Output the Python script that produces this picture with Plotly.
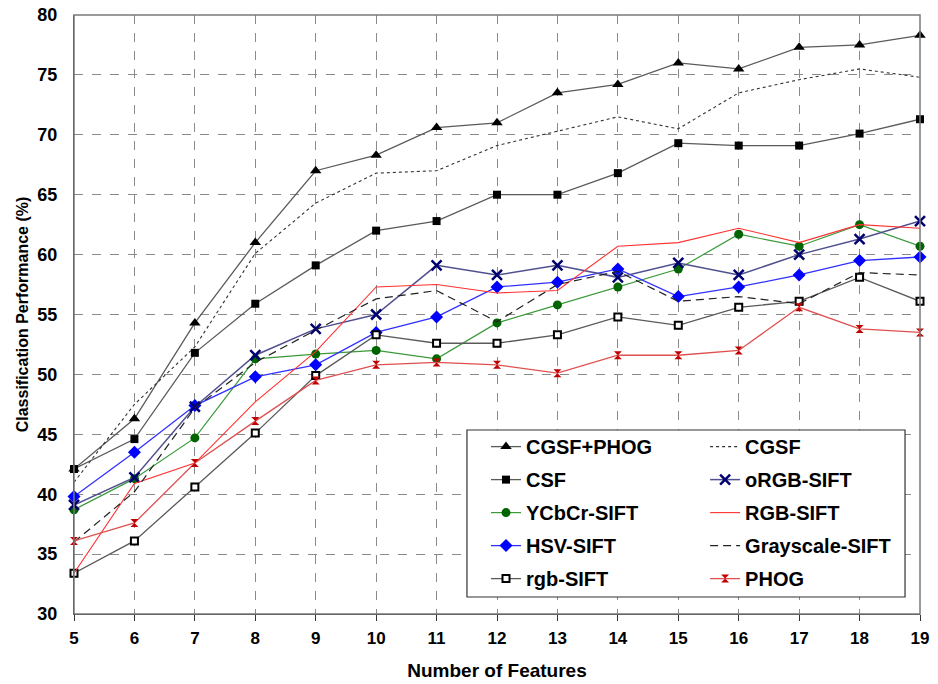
import plotly.graph_objects as go

features = list(range(5, 20))

cgsf_phog = [42.1, 46.3, 54.3, 61.0, 67.0, 68.3, 70.6, 71.0, 73.5, 74.2, 76.0, 75.5, 77.3, 77.5, 78.3]
cgsf = [41.0, 47.5, 52.3, 60.1, 64.3, 66.8, 67.0, 69.1, 70.3, 71.5, 70.5, 73.5, 74.6, 75.5, 74.8]
csf = [42.1, 44.6, 51.8, 55.9, 59.1, 62.0, 62.8, 65.0, 65.0, 66.8, 69.3, 69.1, 69.1, 70.1, 71.3]
orgb_sift = [39.1, 41.4, 47.3, 51.6, 53.8, 55.0, 59.1, 58.3, 59.1, 58.1, 59.3, 58.3, 60.0, 61.3, 62.8]
ycbcr_sift = [38.7, 41.3, 44.7, 51.3, 51.7, 52.0, 51.3, 54.3, 55.8, 57.3, 58.8, 61.7, 60.7, 62.5, 60.7]
rgb_sift_upper = [33.4, 40.9, 42.6, 47.7, 51.9, 57.3, 57.5, 56.8, 57.0, 60.7, 61.0, 62.2, 61.0, 62.5, 62.2]
hsv_sift = [39.8, 43.5, 47.4, 49.8, 50.8, 53.5, 54.8, 57.3, 57.7, 58.8, 56.5, 57.3, 58.3, 59.5, 59.8]
gray_sift = [36.0, 40.2, 47.2, 51.0, 53.7, 56.3, 57.0, 54.4, 57.5, 58.6, 56.1, 56.5, 55.9, 58.5, 58.3]
rgb_sift_lower = [33.4, 36.1, 40.6, 45.1, 49.9, 53.3, 52.6, 52.6, 53.3, 54.8, 54.1, 55.6, 56.1, 58.1, 56.1]
phog = [36.1, 37.6, 42.6, 46.1, 49.5, 50.8, 51.0, 50.8, 50.1, 51.6, 51.6, 52.0, 55.6, 53.8, 53.5]

x_ticks = list(range(5, 20))
y_ticks = list(range(30, 85, 5))

fig = go.Figure()

def add(name, y, line, marker=None, legend="legend"):
    mode = "lines+markers" if marker else "lines"
    fig.add_trace(go.Scatter(
        x=features, y=y, name=name, mode=mode, line=line,
        marker=marker, legend=legend, legendgroup=name, cliponaxis=False,
    ))

add("CGSF+PHOG", cgsf_phog, dict(color="#5a5a5a", width=1.3),
    dict(symbol="triangle-up", size=10, color="black"))
add("CSF", csf, dict(color="#5a5a5a", width=1.3),
    dict(symbol="square", size=8, color="black"))
add("YCbCr-SIFT", ycbcr_sift, dict(color="#3a9a3a", width=1.2),
    dict(symbol="circle", size=9, color="#006400"))
add("HSV-SIFT", hsv_sift, dict(color="#3030ff", width=1.3),
    dict(symbol="diamond", size=10, color="#0000ff"))
add("rgb-SIFT", rgb_sift_lower, dict(color="#5a5a5a", width=1.3),
    dict(symbol="square", size=7, color="white", line=dict(color="black", width=2)))

add("CGSF", cgsf, dict(color="#333333", width=1.1, dash="dot"), legend="legend2")
add("oRGB-SIFT", orgb_sift, dict(color="#505090", width=1.5),
    dict(symbol="x-thin-open", size=10, color="#000070", line=dict(color="#000070", width=2.5)),
    legend="legend2")
add("RGB-SIFT", rgb_sift_upper, dict(color="#ff3030", width=1.1), legend="legend2")
add("Grayscale-SIFT", gray_sift, dict(color="#222222", width=1.2, dash="8px,5px"), legend="legend2")
add("PHOG", phog, dict(color="#e05050", width=1.3),
    dict(symbol="hourglass", size=8, color="#c00000"), legend="legend2")

font_family = "Liberation Sans, Arial, sans-serif"
legend_common = dict(
    bgcolor="rgba(0,0,0,0)", borderwidth=0, tracegroupgap=4,
    font=dict(family=font_family, size=20, color="black", weight="bold"),
    xref="paper", yref="paper", xanchor="left", yanchor="top",
)

fig.update_layout(
    width=938, height=684,
    margin=dict(l=74, r=18, t=15, b=70, autoexpand=False),
    plot_bgcolor="white", paper_bgcolor="white",
    font=dict(family=font_family, color="black"),
    xaxis=dict(
        range=[5, 19], tickvals=x_ticks, ticktext=[str(v) for v in x_ticks],
        automargin=False,
        showgrid=True, gridcolor="#8a8a8a", griddash="dash", gridwidth=1,
        showline=True, linecolor="#333333", linewidth=1.2,
        ticks="outside", ticklen=6, tickcolor="#333333",
        tickfont=dict(size=17, weight="bold"), ticklabelstandoff=2,
        title=dict(text="Number of Features", font=dict(size=19, weight="bold"), standoff=17),
        zeroline=False,
    ),
    yaxis=dict(
        range=[30, 80], tickvals=y_ticks,
        automargin=False,
        showgrid=True, gridcolor="#8a8a8a", griddash="dash", gridwidth=1,
        showline=True, linecolor="#333333", linewidth=1.2,
        ticks="", tickfont=dict(size=18, weight="bold"), ticklabelstandoff=12,
        title=dict(text="Classification Performance (%)", font=dict(size=16, weight="bold"), standoff=4),
        zeroline=False,
    ),
    legend=dict(x=0.487, y=0.312, **legend_common),
    legend2=dict(x=0.746, y=0.312, **legend_common),
    shapes=[
        dict(type="rect", xref="paper", yref="paper", x0=0, x1=1, y0=0, y1=1,
             line=dict(color="#7a7a7a", width=1.5), layer="above"),
        dict(type="rect", xref="paper", yref="paper", x0=0.4645, x1=0.9823, y0=0.0284, y1=0.3072,
             line=dict(color="#333333", width=1.2), fillcolor="white", layer="above"),
    ],
)

fig.write_html("out.html", config={"displayModeBar": False},
               post_script="document.body.style.margin='0';")
